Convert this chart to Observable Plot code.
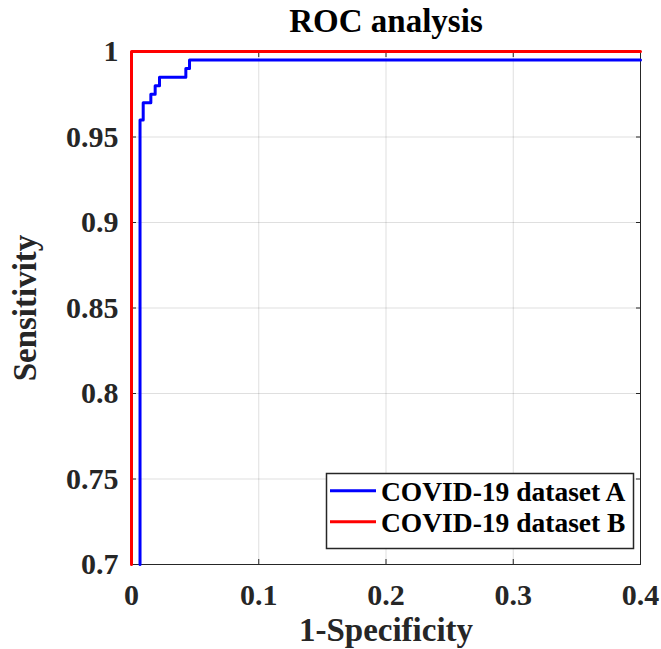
<!DOCTYPE html>
<html><head><meta charset="utf-8">
<script src="https://cdn.jsdelivr.net/npm/d3@7"></script>
<script src="https://cdn.jsdelivr.net/npm/@observablehq/plot@0.6"></script>
<style>body{margin:0;background:#fff}#chart{width:661px;height:649px}</style>
</head><body><div id="chart"></div>
<script>
const title = "ROC analysis";
const xLabel = "1-Specificity";
const yLabel = "Sensitivity";
const xTicks = [0, 0.1, 0.2, 0.3, 0.4];
const xTickLabels = ["0", "0.1", "0.2", "0.3", "0.4"];
const yTicks = [0.7, 0.75, 0.8, 0.85, 0.9, 0.95, 1];
const yTickLabels = ["0.7", "0.75", "0.8", "0.85", "0.9", "0.95", "1"];
const seriesNames = ["COVID-19 dataset A", "COVID-19 dataset B"];
const seriesColors = ["#0000ff", "#ff0000"];
// ROC points (step-after): dataset A
const fprA = [0.0067, 0.0067, 0.0092, 0.0152, 0.0186, 0.022, 0.0427, 0.0456, 0.4];
const tprA = [0.7, 0.96, 0.97, 0.975, 0.98, 0.985, 0.99, 0.995, 0.995];
// dataset B
const fprB = [0, 0, 0.4];
const tprB = [0.7, 1, 1];

const rows = [
  ...fprA.map((x, i) => ({series: seriesNames[0], x, y: tprA[i]})),
  ...fprB.map((x, i) => ({series: seriesNames[1], x, y: tprB[i]}))
];
const fmtX = d => xTickLabels[xTicks.indexOf(d)];
const fmtY = d => yTickLabels[yTicks.indexOf(d)];
const ink = "#262626";
const blank = () => "";

const plot = Plot.plot({
  width: 661, height: 649,
  marginLeft: 131, marginRight: 21, marginTop: 51, marginBottom: 85,
  style: {fontFamily: "Liberation Serif", fontSize: "30px", fontWeight: "bold", background: "white", color: ink},
  x: {domain: [0, 0.4]},
  y: {domain: [0.7, 1]},
  color: {domain: seriesNames, range: seriesColors},
  marks: [
    Plot.gridX(xTicks, {stroke: ink, strokeOpacity: 0.15}),
    Plot.gridY(yTicks, {stroke: ink, strokeOpacity: 0.15}),
    Plot.axisX(xTicks, {anchor: "bottom", tickSize: 0, tickPadding: 19, tickFormat: fmtX, label: null, fill: ink}),
    Plot.axisY(yTicks, {anchor: "left", tickSize: 0, tickPadding: 13, tickFormat: fmtY, label: null, fill: ink}),
    Plot.axisX(xTicks, {anchor: "bottom", tickSize: -5, tickFormat: blank, label: null, stroke: ink}),
    Plot.axisX(xTicks, {anchor: "top", tickSize: -5, tickFormat: blank, label: null, stroke: ink}),
    Plot.axisY(yTicks, {anchor: "left", tickSize: -5, tickFormat: blank, label: null, stroke: ink}),
    Plot.axisY(yTicks, {anchor: "right", tickSize: -5, tickFormat: blank, label: null, stroke: ink}),
    Plot.frame({stroke: ink, strokeWidth: 1}),
    Plot.line(rows, {x: "x", y: "y", z: "series", stroke: "series", strokeWidth: 3, curve: "step-after"}),
    Plot.text([title], {text: d => d, frameAnchor: "top", lineAnchor: "middle", textAnchor: "middle", dy: -30, fontSize: 33, fontWeight: "bold", fill: "#000"}),
    Plot.text([xLabel], {text: d => d, frameAnchor: "bottom", lineAnchor: "middle", textAnchor: "middle", dy: 66, fontSize: 33, fontWeight: "bold", fill: ink}),
    Plot.text([yLabel], {text: d => d, frameAnchor: "left", lineAnchor: "middle", textAnchor: "middle", dx: -106, rotate: -90, fontSize: 33, fontWeight: "bold", fill: ink})
  ]
});

// legend
const svg = d3.select(plot);
const lg = svg.append("g").attr("class", "legend");
lg.append("rect").attr("x", 326.5).attr("y", 473.5).attr("width", 307).attr("height", 75)
  .attr("fill", "white").attr("stroke", ink).attr("stroke-width", 1.5);
seriesNames.forEach((name, i) => {
  const cy = 490.7 + i * 31;
  lg.append("line").attr("x1", 330).attr("x2", 376).attr("y1", cy).attr("y2", cy)
    .attr("stroke", seriesColors[i]).attr("stroke-width", 3);
  lg.append("text").attr("x", 381).attr("y", cy + 10).attr("text-anchor", "start")
    .style("font-size", "27.5px").style("font-weight", "bold").attr("fill", "#000").text(name);
});

document.getElementById("chart").appendChild(plot);
</script>
</body></html>
